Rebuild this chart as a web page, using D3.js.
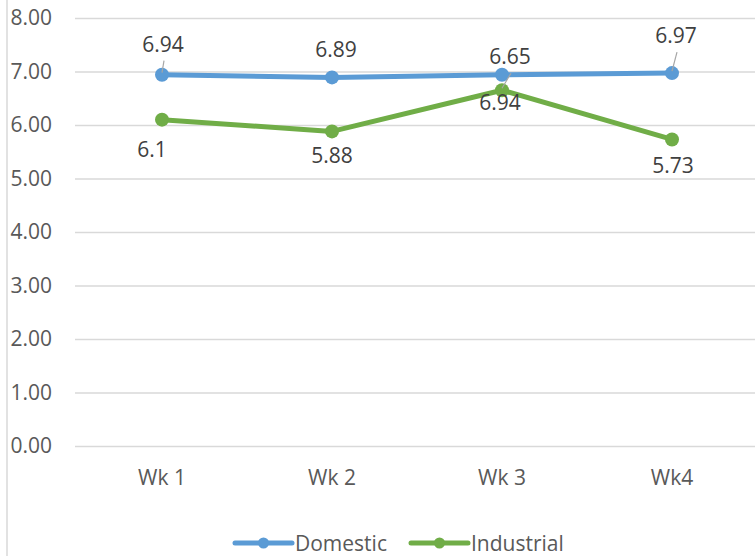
<!DOCTYPE html>
<html>
<head>
<meta charset="utf-8">
<script src="https://cdn.jsdelivr.net/npm/d3@7/dist/d3.min.js"></script>
<style>
  html, body { margin: 0; padding: 0; background: #fff; }
  svg { display: block; font-family: "Open Sans", "Liberation Sans", Arial, sans-serif; }
</style>
</head>
<body>
<svg id="chart" width="755" height="556"></svg>
<script>
// ---- data ----
const categories = ["Wk 1", "Wk 2", "Wk 3", "Wk4"];
const domestic = [6.94, 6.89, 6.94, 6.97];
const industrial = [6.10, 5.88, 6.65, 5.73];
const domesticLabels = ["6.94", "6.89", "6.94", "6.97"];
const industrialLabels = ["6.1", "5.88", "6.65", "5.73"];
const yTicks = [0, 1, 2, 3, 4, 5, 6, 7, 8];
const seriesNames = ["Domestic", "Industrial"];

// ---- layout / style ----
const W = 755, H = 556;
const FS = 21;
const colors = ["#5B9BD5", "#70AD47"];
const textColor = "#595959";
const gridColor = "#D9D9D9";
// per-label offsets from their point (dx, baseline dy) and optional leader line
const labelLayout = [
  [ {dx: 1, dy: -23, leader: true}, {dx: 4, dy: -20}, {dx: -2, dy: 35}, {dx: 4, dy: -30, leader: true} ],
  [ {dx: -10, dy: 37}, {dx: 0, dy: 32}, {dx: 8, dy: -26, leader: true}, {dx: 1, dy: 34} ]
];

const svg = d3.select("#chart");

const x = d3.scaleBand().domain(categories).range([77, 757]);
const y = d3.scaleLinear().domain([0, 8]).range([446, 18]);

// chart left border
svg.append("line")
  .attr("x1", 7).attr("x2", 7).attr("y1", 0).attr("y2", H)
  .attr("stroke", gridColor).attr("stroke-width", 1.5);

// gridlines + y tick labels
const yAxis = d3.axisLeft(y).tickValues(yTicks).tickSize(-(755 - 75)).tickFormat(d3.format(".2f")).tickPadding(23);
const gy = svg.append("g").attr("transform", "translate(75,0)").call(yAxis);
gy.select(".domain").remove();
gy.selectAll(".tick line").attr("stroke", gridColor).attr("stroke-width", 1.5);
gy.selectAll(".tick text")
  .attr("fill", textColor).attr("font-size", FS)
  .attr("font-family", "'Open Sans', 'Liberation Sans', Arial, sans-serif");

// x axis labels
const xAxis = d3.axisBottom(x).tickSize(0).tickPadding(0);
const gx = svg.append("g").attr("transform", "translate(0,469)").call(xAxis);
gx.select(".domain").remove();
gx.selectAll(".tick text")
  .attr("fill", textColor).attr("font-size", FS).attr("dy", "0.78em")
  .attr("font-family", "'Open Sans', 'Liberation Sans', Arial, sans-serif");

const series = [domestic, industrial];
const labelsAll = [domesticLabels, industrialLabels];
const cx = c => x(c) + x.bandwidth() / 2;

const line = d3.line().x((d, i) => cx(categories[i])).y(d => y(d));

series.forEach((vals, s) => {
  svg.append("path")
    .datum(vals)
    .attr("d", line)
    .attr("fill", "none")
    .attr("stroke", colors[s])
    .attr("stroke-width", 5)
    .attr("stroke-linejoin", "round");
  svg.selectAll(".pt" + s)
    .data(vals)
    .enter().append("circle")
    .attr("cx", (d, i) => cx(categories[i]))
    .attr("cy", d => y(d))
    .attr("r", 7)
    .attr("fill", colors[s]);
});

// data labels
series.forEach((vals, s) => {
  vals.forEach((v, i) => {
    const L = labelLayout[s][i];
    const px = cx(categories[i]), py = y(v);
    const tx = px + L.dx, ty = py + L.dy;
    if (L.leader) {
      const above = L.dy < 0;
      svg.append("line")
        .attr("x1", tx + (above ? 1 : 0)).attr("y1", above ? ty + 9 : ty - 18)
        .attr("x2", px).attr("y2", above ? py - 2 : py + 2)
        .attr("stroke", "#A6A6A6").attr("stroke-width", 1.2);
    }
    svg.append("text")
      .attr("x", tx).attr("y", ty)
      .attr("text-anchor", "middle")
      .attr("font-size", FS)
      .attr("fill", "#404040")
      .text(labelsAll[s][i]);
  });
});

// legend
const legendItems = [
  {x1: 235, x2: 292, tx: 295},
  {x1: 411, x2: 468, tx: 471}
];
seriesNames.forEach((name, s) => {
  const it = legendItems[s];
  const ly = 543;
  svg.append("line")
    .attr("x1", it.x1).attr("x2", it.x2).attr("y1", ly).attr("y2", ly)
    .attr("stroke", colors[s]).attr("stroke-width", 5).attr("stroke-linecap", "round");
  svg.append("circle")
    .attr("cx", (it.x1 + it.x2) / 2).attr("cy", ly).attr("r", 5.5).attr("fill", colors[s]);
  svg.append("text")
    .attr("x", it.tx).attr("y", 551)
    .attr("font-size", FS).attr("fill", textColor)
    .text(name);
});
</script>
</body>
</html>
